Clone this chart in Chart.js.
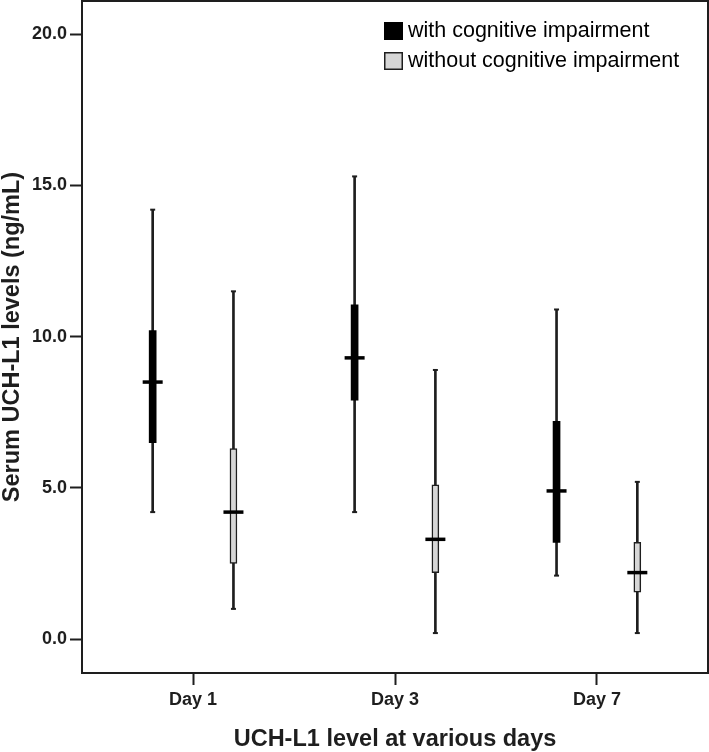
<!DOCTYPE html>
<html>
<head>
<meta charset="utf-8">
<script src="https://cdn.jsdelivr.net/npm/chart.js@4/dist/chart.umd.min.js"></script>
<style>
  html, body { margin: 0; padding: 0; background: #fff; }
  canvas { display: block; }
</style>
</head>
<body>
<canvas id="uchChart" width="709" height="752"></canvas>
<script>
// categories and box-plot values (ng/mL)
const categories = ['Day 1', 'Day 3', 'Day 7'];
const seriesNames = ['with cognitive impairment', 'without cognitive impairment'];

const withMin = [4.2, 4.2, 2.1];
const withQ1 = [6.5, 7.9, 3.2];
const withMed = [8.5, 9.3, 4.9];
const withQ3 = [10.2, 11.05, 7.2];
const withMax = [14.2, 15.3, 10.9];

const withoutMin = [1.0, 0.2, 0.2];
const withoutQ1 = [2.5, 2.2, 1.55];
const withoutMed = [4.2, 3.3, 2.2];
const withoutQ3 = [6.3, 5.1, 3.2];
const withoutMax = [11.5, 8.9, 5.2];

const yTicks = [0, 5, 10, 15, 20];

const INK = '#1e1e1e';
const GREY = '#d6d6d6';
const SHIFT = 0.2; // offset of each group from the category centre

const pos = (i, side) => i + 1 + side * SHIFT;
const ranges = (lo, hi, side) => categories.map((c, i) => ({ x: pos(i, side), y: [lo[i], hi[i]] }));
const points = (vals, side) => categories.map((c, i) => ({ x: pos(i, side), y: vals[i] }));

const datasets = [
  // whiskers
  { type: 'bar', data: ranges(withMin, withMax, -1), backgroundColor: INK, barThickness: 2, order: 5 },
  { type: 'bar', data: ranges(withoutMin, withoutMax, 1), backgroundColor: INK, barThickness: 2, order: 5 },
  // boxes
  { type: 'bar', label: seriesNames[0], data: ranges(withQ1, withQ3, -1), backgroundColor: '#000',
    borderWidth: 0, barThickness: 7, order: 4 },
  { type: 'bar', label: seriesNames[1], data: ranges(withoutQ1, withoutQ3, 1), backgroundColor: GREY,
    borderColor: INK, borderWidth: 1.5, borderSkipped: false, barThickness: 7, order: 4 },
  // whisker caps
  { type: 'line', showLine: false, data: points(withMin, -1).concat(points(withMax, -1)),
    pointStyle: 'line', pointRadius: 2.5, borderColor: INK, borderWidth: 2, order: 2 },
  { type: 'line', showLine: false, data: points(withoutMin, 1).concat(points(withoutMax, 1)),
    pointStyle: 'line', pointRadius: 2.5, borderColor: INK, borderWidth: 2, order: 2 },
  // medians
  { type: 'line', showLine: false, data: points(withMed, -1),
    pointStyle: 'line', pointRadius: 10, borderColor: '#000', borderWidth: 3.5, order: 1 },
  { type: 'line', showLine: false, data: points(withoutMed, 1),
    pointStyle: 'line', pointRadius: 10, borderColor: '#000', borderWidth: 3.5, order: 1 }
];

// frame around the plot area + legend inside top right
const framePlugin = {
  id: 'frame',
  afterDraw(chart) {
    const { ctx, chartArea: a } = chart;
    ctx.save();
    ctx.strokeStyle = INK;
    ctx.lineWidth = 2;
    ctx.strokeRect(a.left, a.top, a.right - a.left, a.bottom - a.top);

    const fills = ['#000', GREY];
    ctx.font = '21.5px "Liberation Sans", Arial, sans-serif';
    ctx.textBaseline = 'middle';
    ctx.textAlign = 'left';
    seriesNames.forEach((name, k) => {
      const x = a.left + 302, y = a.top + 21 + k * 30;
      ctx.fillStyle = fills[k];
      ctx.fillRect(x, y, 19, 18);
      if (k === 1) {
        ctx.lineWidth = 1.5;
        ctx.strokeStyle = INK;
        ctx.strokeRect(x + 0.75, y + 0.75, 17.5, 16.5);
      }
      ctx.fillStyle = '#000';
      ctx.fillText(name, x + 24, y + 9.5);
    });
    ctx.restore();
  }
};

new Chart(document.getElementById('uchChart'), {
  type: 'bar',
  data: { datasets },
  plugins: [framePlugin],
  options: {
    responsive: false,
    animation: false,
    events: [],
    layout: { autoPadding: false, padding: { top: 1, right: 1 } },
    datasets: { bar: { grouped: false } },
    plugins: { legend: { display: false }, tooltip: { enabled: false } },
    scales: {
      x: {
        type: 'linear',
        min: 0.45,
        max: 3.55,
        offset: false,
        afterBuildTicks: s => { s.ticks = categories.map((c, i) => ({ value: i + 1 })); },
        afterFit: s => { s.height = 79; s.paddingLeft = 0; s.paddingRight = 0; },
        border: { display: false },
        grid: { offset: false, drawOnChartArea: false, tickLength: 12, tickWidth: 2, tickColor: INK },
        ticks: {
          color: INK, padding: 4, autoSkip: false, maxRotation: 0,
          font: { family: '"Liberation Sans", Arial, sans-serif', size: 18, weight: 'bold' },
          callback: v => categories[v - 1]
        },
        title: {
          display: true, text: 'UCH-L1 level at various days', color: INK,
          padding: { top: 0, bottom: 0 },
          font: { family: '"Liberation Sans", Arial, sans-serif', size: 23.5, weight: 'bold', lineHeight: 1.05 }
        }
      },
      y: {
        min: -1.12,
        max: 21.1,
        afterBuildTicks: s => { s.ticks = yTicks.map(v => ({ value: v })); },
        afterFit: s => { s.width = 82; s.paddingTop = 0; s.paddingBottom = 0; },
        border: { display: false },
        grid: { drawOnChartArea: false, tickLength: 12, tickWidth: 2, tickColor: INK },
        ticks: {
          color: INK, padding: 3,
          font: { family: '"Liberation Sans", Arial, sans-serif', size: 18, weight: 'bold' },
          callback: v => v.toFixed(1)
        },
        title: {
          display: true, text: 'Serum UCH-L1 levels (ng/mL)', color: INK,
          padding: { top: 0, bottom: 0 },
          font: { family: '"Liberation Sans", Arial, sans-serif', size: 23.5, weight: 'bold', lineHeight: 1.1 }
        }
      }
    }
  }
});
</script>
</body>
</html>
